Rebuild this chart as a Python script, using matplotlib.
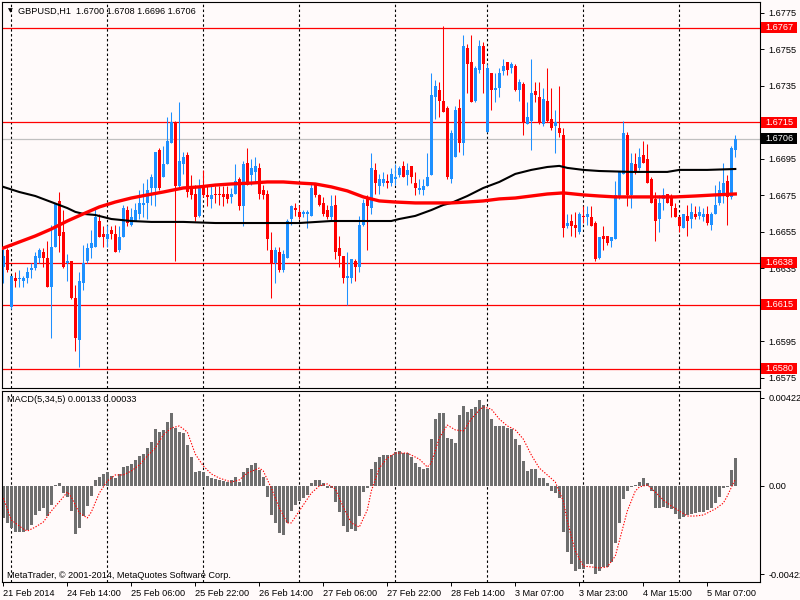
import numpy as np
import matplotlib
matplotlib.use('Agg')
import matplotlib.pyplot as plt
from matplotlib.transforms import blended_transform_factory
from matplotlib.patches import Rectangle

plt.rcParams['font.family'] = ['Liberation Sans', 'DejaVu Sans']

# ---------------- data (GBPUSD H1, 21 Feb 22:00 .. 5 Mar 14:00) ----------------
opens = [
 1.6636,1.6645,1.6614,1.6630,1.6629,1.6628,1.6630,1.6634,1.6635,1.6641,
 1.6644,1.6641,1.6625,1.6647,1.6672,1.6655,1.6638,1.6639,1.6619,1.6596,
 1.6627,1.6639,1.6646,1.6647,1.6661,1.6654,1.6651,1.6656,1.6654,1.6645,
 1.6652,1.6667,1.6659,1.6661,1.6665,1.6670,1.6671,1.6679,1.6679,1.6700,
 1.6685,1.6692,1.6704,1.6715,1.6680,1.6692,1.6697,1.6679,1.6676,1.6664,
 1.6680,1.6675,1.6673,1.6676,1.6676,1.6676,1.6676,1.6674,1.6676,1.6684,
 1.6669,1.6693,1.6686,1.6688,1.6690,1.6678,1.6676,1.6645,1.6638,1.6644,
 1.6634,1.6641,1.6662,1.6668,1.6666,1.6665,1.6665,1.6664,1.6682,1.6675,
 1.6671,1.6667,1.6663,1.6670,1.6646,1.6642,1.6630,1.6630,1.6639,1.6636,
 1.6659,1.6673,1.6668,1.6689,1.6680,1.6682,1.6683,1.6682,1.6684,1.6686,
 1.6691,1.6686,1.6691,1.6682,1.6678,1.6678,1.6680,1.6686,1.6729,1.6733,
 1.6727,1.6723,1.6684,1.6696,1.6723,1.6704,1.6756,1.6748,1.6727,1.6744,
 1.6757,1.6710,1.6742,1.6733,1.6734,1.6743,1.6748,1.6745,1.6746,1.6733,
 1.6736,1.6714,1.6716,1.6732,1.6729,1.6714,1.6727,1.6717,1.6713,1.6712,
 1.6708,1.6658,1.6661,1.6659,1.6655,1.6664,1.6663,1.6663,1.6660,1.6641,
 1.6653,1.6653,1.6650,1.6651,1.6674,1.6687,1.6708,1.6675,1.6692,1.6690,
 1.6697,1.6695,1.6684,1.6673,1.6662,1.6673,1.6676,1.6674,1.6668,1.6663,
 1.6657,1.6664,1.6662,1.6665,1.6664,1.6663,1.6665,1.6659,1.6665,1.6671,
 1.6676,1.6683,1.6674,1.6700]
highs = [
 1.6646,1.6646,1.6631,1.6633,1.6634,1.6631,1.6636,1.6638,1.6644,1.6646,
 1.6646,1.6650,1.6659,1.6671,1.6677,1.6667,1.6643,1.6639,1.6626,1.6633,
 1.6648,1.6649,1.6656,1.6668,1.6665,1.6658,1.6659,1.6658,1.6659,1.6658,
 1.6670,1.6669,1.6668,1.6671,1.6678,1.6682,1.6684,1.6687,1.6699,1.6701,
 1.6702,1.6718,1.6721,1.6716,1.6726,1.6699,1.6699,1.6686,1.6681,1.6684,
 1.6689,1.6681,1.6681,1.6680,1.6680,1.6680,1.6680,1.6679,1.6692,1.6685,
 1.6694,1.6701,1.6695,1.6696,1.6693,1.6681,1.6678,1.6655,1.6647,1.6647,
 1.6645,1.6662,1.6670,1.6671,1.6670,1.6667,1.6667,1.6682,1.6682,1.6676,
 1.6674,1.6670,1.6675,1.6675,1.6653,1.6642,1.6644,1.6640,1.6640,1.6664,
 1.6673,1.6675,1.6698,1.6693,1.6687,1.6688,1.6687,1.6690,1.6692,1.6691,
 1.6694,1.6693,1.6691,1.6688,1.6684,1.6684,1.6698,1.6742,1.6738,1.6737,
 1.6768,1.6724,1.6711,1.6724,1.6728,1.6763,1.6758,1.6763,1.6746,1.6760,
 1.6759,1.6747,1.6742,1.6742,1.6745,1.6750,1.6748,1.6748,1.6747,1.6739,
 1.6737,1.6726,1.6750,1.6737,1.6737,1.6734,1.6745,1.6734,1.6722,1.6735,
 1.6712,1.6665,1.6665,1.6666,1.6666,1.6669,1.6669,1.6669,1.6661,1.6652,
 1.6658,1.6653,1.6652,1.6683,1.6688,1.6716,1.6710,1.6698,1.6698,1.6701,
 1.6705,1.6703,1.6685,1.6677,1.6675,1.6679,1.6676,1.6676,1.6671,1.6664,
 1.6665,1.6670,1.6671,1.6669,1.6669,1.6668,1.6669,1.6666,1.6681,1.6683,
 1.6693,1.6686,1.6702,1.6708]
lows = [
 1.6627,1.6633,1.6613,1.6625,1.6625,1.6625,1.6627,1.6630,1.6634,1.6638,
 1.6636,1.6625,1.6597,1.6647,1.6644,1.6635,1.6628,1.6618,1.6590,1.6581,
 1.6623,1.6638,1.6641,1.6647,1.6652,1.6647,1.6647,1.6651,1.6644,1.6644,
 1.6652,1.6658,1.6658,1.6661,1.6662,1.6663,1.6662,1.6670,1.6669,1.6678,
 1.6685,1.6692,1.6704,1.6639,1.6679,1.6687,1.6674,1.6673,1.6661,1.6663,
 1.6674,1.6669,1.6668,1.6671,1.6670,1.6669,1.6671,1.6671,1.6676,1.6667,
 1.6658,1.6681,1.6681,1.6682,1.6673,1.6673,1.6645,1.6619,1.6627,1.6633,
 1.6633,1.6641,1.6659,1.6664,1.6662,1.6663,1.6657,1.6664,1.6674,1.6669,
 1.6664,1.6662,1.6661,1.6640,1.6636,1.6627,1.6615,1.6627,1.6628,1.6633,
 1.6658,1.6645,1.6665,1.6676,1.6676,1.6680,1.6679,1.6680,1.6681,1.6685,
 1.6685,1.6681,1.6682,1.6675,1.6676,1.6675,1.6680,1.6686,1.6717,1.6718,
 1.6721,1.6684,1.6682,1.6696,1.6699,1.6697,1.6731,1.6726,1.6726,1.6742,
 1.6731,1.6710,1.6722,1.6726,1.6729,1.6741,1.6741,1.6742,1.6732,1.6727,
 1.6708,1.6714,1.6700,1.6726,1.6714,1.6713,1.6715,1.6711,1.6698,1.6707,
 1.6652,1.6657,1.6653,1.6652,1.6654,1.6660,1.6659,1.6658,1.6639,1.6640,
 1.6645,1.6648,1.6647,1.6651,1.6673,1.6687,1.6669,1.6668,1.6687,1.6689,
 1.6693,1.6682,1.6671,1.6650,1.6655,1.6667,1.6671,1.6663,1.6663,1.6655,
 1.6657,1.6653,1.6657,1.6662,1.6662,1.6661,1.6659,1.6656,1.6665,1.6670,
 1.6671,1.6659,1.6673,1.6696]
closes = [
 1.6642,1.6634,1.6631,1.6628,1.6630,1.6630,1.6633,1.6635,1.6642,1.6645,
 1.6641,1.6625,1.6647,1.6671,1.6653,1.6636,1.6639,1.6619,1.6597,1.6628,
 1.6638,1.6646,1.6649,1.6663,1.6652,1.6652,1.6654,1.6654,1.6644,1.6652,
 1.6668,1.6660,1.6663,1.6667,1.6671,1.6671,1.6678,1.6685,1.6699,1.6679,
 1.6692,1.6705,1.6715,1.6680,1.6694,1.6696,1.6677,1.6675,1.6663,1.6680,
 1.6675,1.6674,1.6675,1.6675,1.6675,1.6674,1.6673,1.6676,1.6683,1.6669,
 1.6692,1.6681,1.6690,1.6691,1.6676,1.6675,1.6651,1.6638,1.6645,1.6634,
 1.6643,1.6661,1.6669,1.6667,1.6663,1.6666,1.6666,1.6679,1.6675,1.6670,
 1.6665,1.6663,1.6669,1.6644,1.6642,1.6630,1.6631,1.6640,1.6636,1.6659,
 1.6671,1.6669,1.6690,1.6682,1.6684,1.6684,1.6682,1.6687,1.6685,1.6690,
 1.6685,1.6689,1.6685,1.6679,1.6679,1.6680,1.6685,1.6730,1.6735,1.6727,
 1.6721,1.6685,1.6709,1.6722,1.6704,1.6757,1.6747,1.6726,1.6745,1.6757,
 1.6747,1.6745,1.6733,1.6734,1.6742,1.6746,1.6744,1.6747,1.6733,1.6737,
 1.6715,1.6718,1.6731,1.6730,1.6715,1.6728,1.6716,1.6712,1.6715,1.6709,
 1.6657,1.6660,1.6658,1.6657,1.6665,1.6663,1.6665,1.6658,1.6640,1.6652,
 1.6651,1.6649,1.6652,1.6675,1.6688,1.6709,1.6675,1.6693,1.6688,1.6696,
 1.6693,1.6682,1.6671,1.6661,1.6671,1.6675,1.6671,1.6669,1.6663,1.6658,
 1.6665,1.6661,1.6666,1.6663,1.6666,1.6665,1.6660,1.6665,1.6670,1.6678,
 1.6682,1.6674,1.6701,1.6706]

# moving averages, sampled at bar indices
red_ma_bars = [0,4,8,12,16,20,24,28,32,36,40,45,49,53,57,62,66,70,74,78,82,86,90,94,98,
               103,108,112,116,120,124,128,132,136,140,145,149,153,158,163,168,173,178,183]
red_ma_vals = [1.66462,1.66495,1.66528,1.66566,1.66610,1.66649,1.66687,1.66714,1.66736,
               1.66753,1.66769,1.66791,1.66797,1.66807,1.66813,1.66818,1.66824,1.66824,
               1.66818,1.66813,1.66797,1.66775,1.66742,1.66720,1.66714,1.66709,1.66709,
               1.66709,1.66714,1.66720,1.66731,1.66736,1.66747,1.66758,1.66764,1.66753,
               1.66747,1.66742,1.66742,1.66742,1.66742,1.66747,1.66753,1.66758]
blk_ma_bars = [0,4,8,12,16,18,20,23,27,32,37,45,53,62,70,74,82,91,97,99,103,107,110,112,
               116,120,124,128,132,136,139,141,145,149,157,166,169,176,183]
blk_ma_vals = [1.66797,1.66769,1.66747,1.66714,1.66681,1.66660,1.66649,1.66643,1.66621,
               1.66610,1.66605,1.66605,1.66599,1.66599,1.66599,1.66599,1.66610,1.66610,
               1.66610,1.66621,1.66638,1.66670,1.66698,1.66709,1.66747,1.66791,1.66824,
               1.66868,1.66890,1.66906,1.66912,1.66901,1.66890,1.66884,1.66879,1.66879,
               1.66890,1.66890,1.66895]

levels = [1.6767, 1.6715, 1.6638, 1.6615, 1.6580]
last_price = 1.6706
price_ticks = [1.6775, 1.6755, 1.6735, 1.6715, 1.6695, 1.6675, 1.6655, 1.6635, 1.6615, 1.6595, 1.6575]
hidden_tick_labels = [1.6715, 1.6615]   # fully covered by the level boxes

macd = [
 -0.00153,-0.00177,-0.00201,-0.00221,-0.00221,-0.00221,-0.00211,-0.00187,-0.00139,-0.00120,
 -0.00105,-0.00144,-0.00091,0.00005,0.00014,-0.00034,-0.00053,-0.00120,-0.00230,-0.00201,
 -0.00144,-0.00096,-0.00048,0.00029,0.00043,0.00058,0.00067,0.00048,0.00038,0.00058,
 0.00091,0.00096,0.00105,0.00125,0.00144,0.00153,0.00182,0.00211,0.00273,0.00259,
 0.00269,0.00307,0.00350,0.00278,0.00259,0.00254,0.00197,0.00139,0.00067,0.00072,
 0.00067,0.00048,0.00038,0.00034,0.00029,0.00024,0.00019,0.00029,0.00043,0.00019,
 0.00067,0.00086,0.00101,0.00110,0.00077,0.00043,-0.00053,-0.00139,-0.00177,-0.00225,
 -0.00235,-0.00177,-0.00120,-0.00091,-0.00072,-0.00058,-0.00043,0.00014,0.00029,0.00029,
 0.00014,-0.00010,-0.00010,-0.00077,-0.00125,-0.00192,-0.00221,-0.00206,-0.00216,-0.00144,
 -0.00029,-0.00010,0.00082,0.00115,0.00139,0.00149,0.00149,0.00149,0.00163,0.00168,
 0.00158,0.00158,0.00139,0.00110,0.00091,0.00082,0.00086,0.00225,0.00321,0.00350,
 0.00350,0.00230,0.00225,0.00206,0.00340,0.00384,0.00355,0.00369,0.00379,0.00412,
 0.00388,0.00369,0.00321,0.00288,0.00288,0.00288,0.00278,0.00273,0.00225,0.00197,
 0.00120,0.00072,0.00082,0.00082,0.00038,0.00038,0.00014,-0.00024,-0.00034,-0.00058,
 -0.00221,-0.00316,-0.00374,-0.00408,-0.00398,-0.00398,-0.00374,-0.00374,-0.00422,-0.00408,
 -0.00388,-0.00388,-0.00364,-0.00273,-0.00177,-0.00064,-0.00024,-0.00005,0.00005,0.00019,
 0.00038,0.00014,-0.00024,-0.00105,-0.00105,-0.00101,-0.00105,-0.00110,-0.00134,-0.00158,
 -0.00149,-0.00139,-0.00134,-0.00129,-0.00125,-0.00125,-0.00115,-0.00105,-0.00082,-0.00053,
 -0.00010,-0.00005,0.00077,0.00133]

signal_bars = [0,2,5,6,8,10,12,15,16,17,19,21,22,24,26,28,30,32,34,36,38,40,42,44,46,48,50,
               52,54,57,59,61,64,65,67,69,71,72,75,77,79,81,83,85,87,89,91,92,94,96,98,101,
               104,106,107,109,111,113,115,117,119,120,122,124,126,128,130,132,134,136,138,
               140,141,143,145,147,149,151,153,154,156,158,159,161,163,165,167,169,171,173,
               175,178,180,181,183]
signal_vals = [-0.00058,-0.00163,-0.00206,-0.00216,-0.00197,-0.00173,-0.00120,-0.00053,
               -0.00029,-0.00053,-0.00129,-0.00153,-0.00125,-0.00034,0.00024,0.00053,0.00053,
               0.00072,0.00101,0.00144,0.00182,0.00245,0.00278,0.00288,0.00259,0.00153,0.00096,
               0.00058,0.00038,0.00019,0.00029,0.00062,0.00086,0.00072,-0.00010,-0.00105,
               -0.00177,-0.00177,-0.00091,-0.00034,0.00000,0.00010,-0.00014,-0.00101,-0.00177,
               -0.00197,-0.00115,-0.00024,0.00086,0.00134,0.00158,0.00158,0.00129,0.00091,
               0.00110,0.00230,0.00292,0.00269,0.00264,0.00321,0.00364,0.00379,0.00369,0.00321,
               0.00288,0.00269,0.00225,0.00149,0.00086,0.00053,0.00019,-0.00072,-0.00168,
               -0.00312,-0.00384,-0.00388,-0.00393,-0.00388,-0.00336,-0.00264,-0.00120,
               -0.00024,-0.00005,0.00005,-0.00029,-0.00067,-0.00096,-0.00120,-0.00144,-0.00144,
               -0.00139,-0.00110,-0.00082,-0.00048,0.00033]

separator_bars = [2, 26, 50, 74, 98, 121, 145, 169]
time_tick_bars = [0, 16, 32, 48, 64, 80, 96, 112, 128, 144, 160, 176]
time_tick_labels = ['21 Feb 2014', '24 Feb 14:00', '25 Feb 06:00', '25 Feb 22:00',
                    '26 Feb 14:00', '27 Feb 06:00', '27 Feb 22:00', '28 Feb 14:00',
                    '3 Mar 07:00', '3 Mar 23:00', '4 Mar 15:00', '5 Mar 07:00']
macd_ticks = [0.00422, 0.0, -0.00422]
macd_tick_labels = ['0.00422', '0.00', '-0.00422']

# ---------------- drawing ----------------
BG = '#fffafa'
BULL = '#1e90ff'
BEAR = '#ff0000'
FS = 6.6
W, H = 800, 600

fig = plt.figure(figsize=(8, 6), dpi=100, facecolor=BG)

def frac(l, t, r, b):
    return [l / W, 1 - b / H, (r - l) / W, (b - t) / H]

ax = fig.add_axes(frac(2, 2, 760, 388), facecolor=BG)
ax2 = fig.add_axes(frac(2, 391, 760, 582), facecolor=BG)

o = np.array(opens); h = np.array(highs); l = np.array(lows); c = np.array(closes)
x = np.arange(len(o))
up = c >= o
cols = np.where(up, BULL, BEAR)
body_lo = np.minimum(o, c)
body_h = np.maximum(np.abs(c - o), 0.00004)

for lv in levels:
    ax.axhline(lv, color='#ff0000', lw=0.9, zorder=1)
ax.axhline(last_price, color='#c0c0c0', lw=0.9, zorder=1)
for sb in separator_bars:
    for a in (ax, ax2):
        a.axvline(sb, color='black', lw=0.8, linestyle=(0, (2.2, 2.2)), zorder=0.5)

ax.vlines(x, l, h, colors=cols, lw=0.75, zorder=2)
ax.bar(x, body_h, bottom=body_lo, width=0.75, color=cols, lw=0, zorder=2.5)

ax.plot(blk_ma_bars, blk_ma_vals, color='black', lw=1.5, zorder=3)
ax.plot(red_ma_bars, red_ma_vals, color='#ff0000', lw=2.4, zorder=3.2)

XL = ((2 - 3.3) / 4, (760 - 3.3) / 4)
ax.set_xlim(*XL)
ax.set_ylim(1.65695, 1.67810)
ax.set_xticks([])
ax.yaxis.tick_right()
ax.set_yticks(price_ticks)
ax.set_yticklabels(['' if v in hidden_tick_labels else '%.4f' % v for v in price_ticks])
ax.tick_params(axis='y', direction='out', length=3, width=0.7, pad=3, labelsize=FS, colors='black')

# price boxes on the right scale
tr = blended_transform_factory(fig.transFigure, ax.transData)
half = 5.5 / 18256.0
for lv in levels:
    ax.add_patch(Rectangle((761 / W, lv - half), 36 / W, 2 * half, transform=tr,
                           facecolor='#ff0000', edgecolor='none', clip_on=False, zorder=10))
    ax.text(765 / W, lv, '%.4f' % lv, transform=tr, color='white', fontsize=FS,
            va='center', ha='left', clip_on=False, zorder=11)
ax.add_patch(Rectangle((761 / W, last_price - half), 36 / W, 2 * half, transform=tr,
                       facecolor='black', edgecolor='none', clip_on=False, zorder=10))
ax.text(765 / W, last_price, '%.4f' % last_price, transform=tr, color='white', fontsize=FS,
        va='center', ha='left', clip_on=False, zorder=11)

# MACD panel
m = np.array(macd)
ax2.bar(np.arange(len(m)), m, width=0.75, color='#6e6e6e', lw=0, zorder=2)
ax2.plot(signal_bars, signal_vals, color='#ff0000', lw=0.8, linestyle=(0, (1.2, 1.4)), zorder=3)
ax2.set_xlim(*XL)
ax2.set_ylim(-0.004603, 0.004555)
ax2.yaxis.tick_right()
ax2.set_yticks(macd_ticks)
ax2.set_yticklabels(macd_tick_labels)
ax2.tick_params(axis='y', direction='out', length=3, width=0.7, pad=3, labelsize=FS, colors='black')
ax2.set_xticks(time_tick_bars)
ax2.set_xticklabels(time_tick_labels, ha='left')
ax2.tick_params(axis='x', direction='out', length=3, width=0.7, pad=2, labelsize=FS, colors='black')

for a in (ax, ax2):
    for s in a.spines.values():
        s.set_color('black')
        s.set_linewidth(0.8)

# texts
fig.text(10 / W, 1 - 11 / H, '\u25bc', fontsize=4.5, color='black', ha='center', va='center',
         family='DejaVu Sans')
fig.text(18 / W, 1 - 11 / H, 'GBPUSD,H1  1.6700 1.6708 1.6696 1.6706', fontsize=FS,
         color='black', ha='left', va='center')
fig.text(7 / W, 1 - 400 / H, 'MACD(5,34,5) 0.00133 0.00033', fontsize=FS,
         color='black', ha='left', va='center')
fig.text(7 / W, 1 - 575 / H, 'MetaTrader, \u00a9 2001-2014, MetaQuotes Software Corp.', fontsize=FS,
         color='black', ha='left', va='center')

fig.savefig('out.png', dpi=100, facecolor=BG)
